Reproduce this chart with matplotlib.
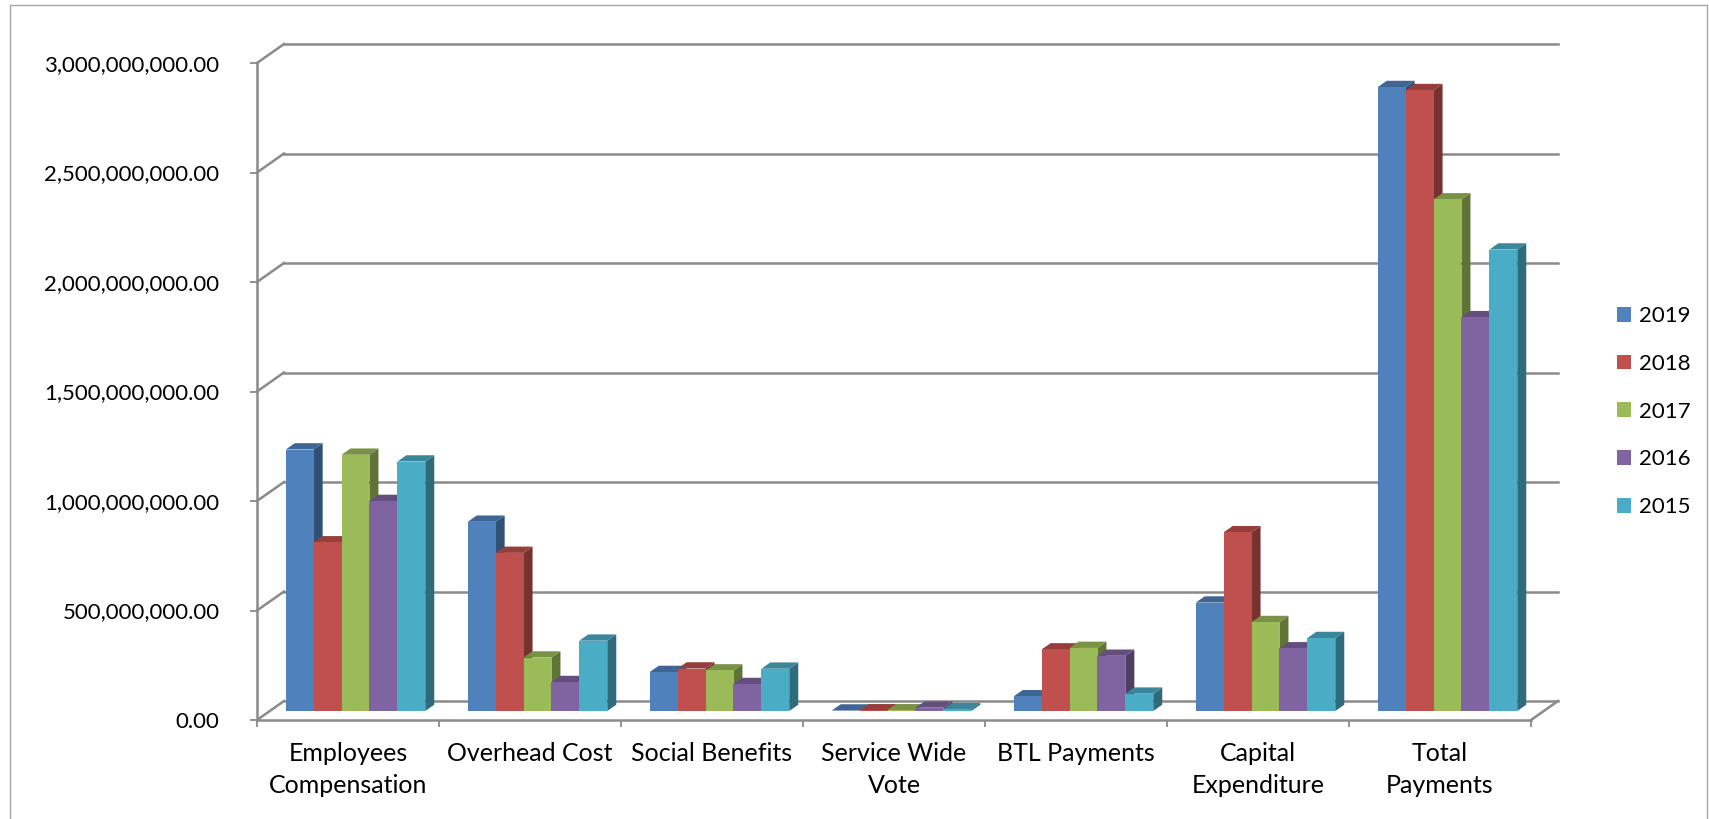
import matplotlib
matplotlib.use('Agg')
import matplotlib.pyplot as plt
from matplotlib.patches import Polygon, Patch
from matplotlib.lines import Line2D
from matplotlib.ticker import FuncFormatter

plt.rcParams['font.family'] = ['Lato', 'DejaVu Sans']

# ---- data (values in millions) ----
categories = ['Employees\nCompensation', 'Overhead Cost', 'Social Benefits',
              'Service Wide\nVote', 'BTL Payments', 'Capital\nExpenditure',
              'Total\nPayments']
years = ['2019', '2018', '2017', '2016', '2015']
v2019 = [1194, 864, 178, 2, 67, 495, 2849]
v2018 = [770, 722, 194, 3, 281, 816, 2835]
v2017 = [1170, 244, 185, 3, 288, 406, 2336]
v2016 = [959, 132, 123, 15, 252, 286, 1798]
v2015 = [1139, 321, 193, 9, 79, 333, 2107]
series = [v2019, v2018, v2017, v2016, v2015]
colors = ['#4F81BD', '#C0504D', '#9BBB59', '#8064A2', '#4BACC6']


def shade(hex_color, f):
    r, g, b = matplotlib.colors.to_rgb(hex_color)
    return (r * f, g * f, b * f)


W_PX, H_PX = 1709, 819
fig = plt.figure(figsize=(W_PX / 100, H_PX / 100), dpi=100)
ax = fig.add_axes([257 / W_PX, 1 - 720 / H_PX, 1274 / W_PX, 657 / H_PX])
ymax = 3e9
ax.set_xlim(0, len(categories))
ax.set_ylim(0, ymax)

# pseudo-3d offsets (x in category units, y in value units)
px_per_val = 657 / ymax
cat_px = 182
DX, DY = 27 / cat_px, 19 / px_per_val        # wall depth
BX, BY = 7.5 / cat_px, 9 / px_per_val        # bar plane offset
SX, SY = 9 / cat_px, 6.3 / px_per_val        # bar depth
bw = 27.9 / cat_px

grid_c = '#8a8a8a'
lw = 1.8
ticks = [i * 5e8 for i in range(7)]
n = len(categories)

# back wall gridlines + side diagonals
for t in ticks:
    ax.plot([DX, n + DX], [t + DY, t + DY], color=grid_c, lw=lw, clip_on=False, zorder=1)
    ax.plot([0, DX], [t, t + DY], color=grid_c, lw=lw, clip_on=False, zorder=1)
# floor
ax.plot([0, n], [0, 0], color=grid_c, lw=lw, clip_on=False, zorder=1)
ax.plot([n, n + DX], [0, DY], color=grid_c, lw=lw, clip_on=False, zorder=1)
# front value axis
ax.plot([0, 0], [0, ymax], color=grid_c, lw=lw, clip_on=False, zorder=30)

# bars
for j, (vals, c) in enumerate(zip(series, colors)):
    xs = [i + 0.5 + (j - 2.5) * bw + BX for i in range(n)]
    bars = ax.bar(xs, [v * 1e6 for v in vals], width=bw, bottom=BY, align='edge',
                  color=c, edgecolor='none', zorder=5 + 3 * j + 2, clip_on=False)
    for b in bars:
        x0, y0 = b.get_x(), b.get_y()
        x1, y1 = x0 + b.get_width(), y0 + b.get_height()
        side = Polygon([(x1, y0), (x1 + SX, y0 + SY), (x1 + SX, y1 + SY), (x1, y1)],
                       closed=True, facecolor=shade(c, 0.62), edgecolor='none',
                       zorder=5 + 3 * j, clip_on=False)
        top = Polygon([(x0, y1), (x1, y1), (x1 + SX, y1 + SY), (x0 + SX, y1 + SY)],
                      closed=True, facecolor=shade(c, 0.78), edgecolor='none',
                      zorder=5 + 3 * j + 1, clip_on=False)
        ax.add_patch(side)
        ax.add_patch(top)

for s in ax.spines.values():
    s.set_visible(False)

ax.set_yticks(ticks)
ax.yaxis.set_major_formatter(FuncFormatter(lambda v, p: f'{v:,.2f}'))
ax.tick_params(axis='y', length=5, width=1.3, color=grid_c, pad=22, labelsize=16)

ax.set_xticks(range(n + 1))
ax.set_xticklabels([])
ax.set_xticks([i + 0.5 for i in range(n)], minor=True)
ax.set_xticklabels(categories, minor=True, fontsize=18, linespacing=1.45)
ax.tick_params(axis='x', which='major', length=5, width=1.3, color=grid_c)
ax.tick_params(axis='x', which='minor', length=0, pad=16)

# legend
handles = [Patch(facecolor=c, edgecolor='none', label=y) for c, y in zip(colors, years)]
fig.legend(handles=handles, loc='center left', bbox_to_anchor=(1617 / W_PX, 1 - 411.5 / H_PX),
           frameon=False, fontsize=16, handlelength=0.65, handleheight=0.65,
           handletextpad=0.35, labelspacing=1.25, borderpad=0, borderaxespad=0)

# outer frame
fc = '#a6a6a6'
fig.add_artist(Line2D([10 / W_PX, 10 / W_PX], [0, 1 - 5 / H_PX], color=fc, lw=1))
fig.add_artist(Line2D([10 / W_PX, 1707 / W_PX], [1 - 5 / H_PX, 1 - 5 / H_PX], color=fc, lw=1))
fig.add_artist(Line2D([1707 / W_PX, 1707 / W_PX], [0, 1 - 5 / H_PX], color=fc, lw=1))

fig.savefig('out.png', dpi=100)
